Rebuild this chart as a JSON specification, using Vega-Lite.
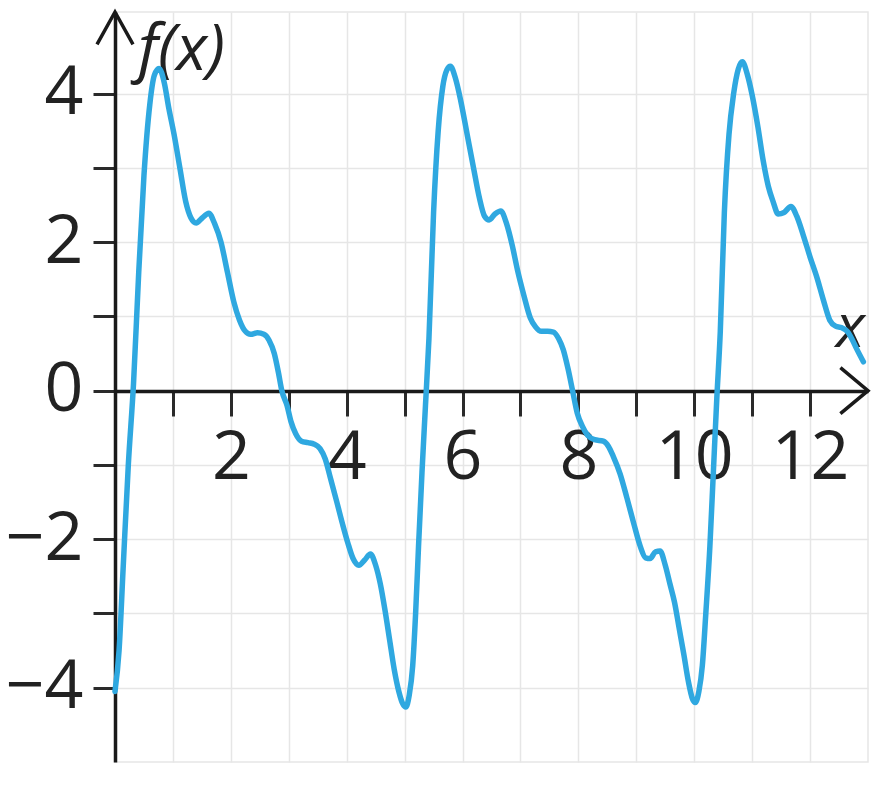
{
  "$schema": "https://vega.github.io/schema/vega-lite/v6.json",
  "description": "Periodic function f(x) with a sawtooth-like shape and small ripples.",
  "width": 753,
  "height": 750,
  "autosize": {"type": "none"},
  "padding": {"left": 115, "top": 12, "right": 22, "bottom": 25},
  "background": "white",
  "config": {
    "font": "Open Sans",
    "view": {"stroke": "#e6e6e6", "strokeWidth": 1.5}
  },
  "layer": [
    {
      "data": {
        "values": [
          {"x": 0.00, "y": -4.05}, {"x": 0.07, "y": -3.5}, {"x": 0.14, "y": -2.4}, {"x": 0.23, "y": -1.0},
          {"x": 0.32, "y": 0.1}, {"x": 0.41, "y": 1.6}, {"x": 0.50, "y": 2.9}, {"x": 0.60, "y": 3.85},
          {"x": 0.68, "y": 4.25}, {"x": 0.76, "y": 4.34}, {"x": 0.85, "y": 4.15}, {"x": 0.93, "y": 3.8},
          {"x": 1.02, "y": 3.45}, {"x": 1.12, "y": 3.0}, {"x": 1.22, "y": 2.55}, {"x": 1.31, "y": 2.33},
          {"x": 1.40, "y": 2.26}, {"x": 1.51, "y": 2.33}, {"x": 1.62, "y": 2.39}, {"x": 1.72, "y": 2.25},
          {"x": 1.83, "y": 2.0}, {"x": 1.94, "y": 1.6}, {"x": 2.05, "y": 1.2}, {"x": 2.15, "y": 0.95},
          {"x": 2.25, "y": 0.8}, {"x": 2.34, "y": 0.76}, {"x": 2.46, "y": 0.78}, {"x": 2.57, "y": 0.76},
          {"x": 2.66, "y": 0.68}, {"x": 2.75, "y": 0.5}, {"x": 2.82, "y": 0.25}, {"x": 2.88, "y": 0.0},
          {"x": 2.97, "y": -0.2}, {"x": 3.04, "y": -0.42}, {"x": 3.12, "y": -0.58}, {"x": 3.22, "y": -0.68},
          {"x": 3.33, "y": -0.7}, {"x": 3.44, "y": -0.72}, {"x": 3.54, "y": -0.78}, {"x": 3.63, "y": -0.92},
          {"x": 3.72, "y": -1.18}, {"x": 3.83, "y": -1.5}, {"x": 3.93, "y": -1.8}, {"x": 4.02, "y": -2.05},
          {"x": 4.11, "y": -2.26}, {"x": 4.21, "y": -2.35}, {"x": 4.31, "y": -2.28}, {"x": 4.41, "y": -2.2},
          {"x": 4.50, "y": -2.35}, {"x": 4.58, "y": -2.6}, {"x": 4.66, "y": -2.95}, {"x": 4.74, "y": -3.35},
          {"x": 4.82, "y": -3.75}, {"x": 4.90, "y": -4.05}, {"x": 4.97, "y": -4.22}, {"x": 5.02, "y": -4.26},
          {"x": 5.08, "y": -4.1}, {"x": 5.14, "y": -3.7}, {"x": 5.19, "y": -3.0}, {"x": 5.24, "y": -2.1},
          {"x": 5.30, "y": -1.1}, {"x": 5.36, "y": -0.2}, {"x": 5.42, "y": 0.7}, {"x": 5.50, "y": 2.4},
          {"x": 5.58, "y": 3.5}, {"x": 5.66, "y": 4.1}, {"x": 5.73, "y": 4.32}, {"x": 5.79, "y": 4.37},
          {"x": 5.88, "y": 4.2}, {"x": 5.97, "y": 3.9}, {"x": 6.08, "y": 3.45}, {"x": 6.19, "y": 3.0},
          {"x": 6.29, "y": 2.6}, {"x": 6.38, "y": 2.35}, {"x": 6.46, "y": 2.3}, {"x": 6.56, "y": 2.38},
          {"x": 6.66, "y": 2.42}, {"x": 6.76, "y": 2.25}, {"x": 6.86, "y": 1.95}, {"x": 6.95, "y": 1.62},
          {"x": 7.06, "y": 1.28}, {"x": 7.17, "y": 0.98}, {"x": 7.26, "y": 0.86}, {"x": 7.36, "y": 0.8},
          {"x": 7.47, "y": 0.8}, {"x": 7.57, "y": 0.79}, {"x": 7.66, "y": 0.7}, {"x": 7.74, "y": 0.55},
          {"x": 7.82, "y": 0.3}, {"x": 7.90, "y": 0.0}, {"x": 7.98, "y": -0.3}, {"x": 8.07, "y": -0.48},
          {"x": 8.16, "y": -0.6}, {"x": 8.28, "y": -0.66}, {"x": 8.43, "y": -0.68}, {"x": 8.52, "y": -0.75},
          {"x": 8.60, "y": -0.88}, {"x": 8.72, "y": -1.12}, {"x": 8.84, "y": -1.45}, {"x": 8.96, "y": -1.8},
          {"x": 9.07, "y": -2.1}, {"x": 9.16, "y": -2.25}, {"x": 9.24, "y": -2.26}, {"x": 9.33, "y": -2.17},
          {"x": 9.41, "y": -2.16}, {"x": 9.50, "y": -2.35}, {"x": 9.58, "y": -2.6}, {"x": 9.66, "y": -2.85},
          {"x": 9.74, "y": -3.2}, {"x": 9.82, "y": -3.55}, {"x": 9.90, "y": -3.92}, {"x": 9.97, "y": -4.15},
          {"x": 10.02, "y": -4.2}, {"x": 10.08, "y": -4.05}, {"x": 10.14, "y": -3.7}, {"x": 10.20, "y": -3.0},
          {"x": 10.27, "y": -2.1}, {"x": 10.33, "y": -1.1}, {"x": 10.39, "y": -0.1}, {"x": 10.45, "y": 0.8},
          {"x": 10.52, "y": 2.4}, {"x": 10.60, "y": 3.45}, {"x": 10.68, "y": 4.0}, {"x": 10.76, "y": 4.33},
          {"x": 10.83, "y": 4.43}, {"x": 10.92, "y": 4.25}, {"x": 11.00, "y": 3.98}, {"x": 11.10, "y": 3.55},
          {"x": 11.19, "y": 3.1}, {"x": 11.28, "y": 2.75}, {"x": 11.36, "y": 2.55}, {"x": 11.45, "y": 2.38},
          {"x": 11.55, "y": 2.4}, {"x": 11.67, "y": 2.48}, {"x": 11.77, "y": 2.35}, {"x": 11.88, "y": 2.1},
          {"x": 12.00, "y": 1.8}, {"x": 12.12, "y": 1.52}, {"x": 12.23, "y": 1.22}, {"x": 12.34, "y": 0.95},
          {"x": 12.44, "y": 0.87}, {"x": 12.54, "y": 0.85}, {"x": 12.64, "y": 0.8}, {"x": 12.72, "y": 0.7},
          {"x": 12.80, "y": 0.57}, {"x": 12.92, "y": 0.39}
        ]
      },
      "mark": {
        "type": "line",
        "interpolate": "monotone",
        "color": "#2fa8e0",
        "strokeWidth": 5.5,
        "strokeCap": "round",
        "strokeJoin": "round"
      },
      "encoding": {
        "x": {
          "field": "x",
          "type": "quantitative",
          "scale": {"domain": [0, 13], "nice": false, "zero": false},
          "axis": {
            "orient": "bottom",
            "offset": -371,
            "values": [1, 2, 3, 4, 5, 6, 7, 8, 9, 10, 11, 12],
            "format": "d",
            "labelExpr": "datum.value % 2 === 0 ? datum.label : ''",
            "grid": true,
            "gridColor": "#e6e6e6",
            "gridWidth": 1.5,
            "domainColor": "#1a1a1a",
            "domainWidth": 3.5,
            "tickColor": "#2a2a2a",
            "tickWidth": 3,
            "tickSize": 25,
            "labelFontSize": 68,
            "labelColor": "#222222",
            "labelPadding": 8,
            "labelFlush": false,
            "labelOverlap": false,
            "title": "x",
            "titleFont": "Open Sans",
            "titleFontStyle": "italic",
            "titleFontWeight": "normal",
            "titleFontSize": 60,
            "titleColor": "#222222",
            "titleX": 735,
            "titleY": -63,
            "titleAlign": "center",
            "titleBaseline": "middle"
          }
        },
        "y": {
          "field": "y",
          "type": "quantitative",
          "scale": {"domain": [-5, 5.1], "nice": false, "zero": false},
          "axis": {
            "values": [-4, -3, -2, -1, 0, 1, 2, 3, 4],
            "format": "d",
            "labelExpr": "datum.value % 2 === 0 ? datum.label : ''",
            "grid": true,
            "gridColor": "#e6e6e6",
            "gridWidth": 1.5,
            "domainColor": "#1a1a1a",
            "domainWidth": 3.5,
            "tickColor": "#2a2a2a",
            "tickWidth": 3,
            "tickSize": 22,
            "labelFontSize": 68,
            "labelColor": "#222222",
            "labelPadding": 10,
            "labelFlush": false,
            "labelOverlap": false,
            "title": "f(x)",
            "titleFont": "Open Sans",
            "titleFontStyle": "italic",
            "titleFontWeight": "normal",
            "titleFontSize": 64,
            "titleColor": "#222222",
            "titleAngle": 0,
            "titleX": 66,
            "titleY": 38,
            "titleAlign": "center",
            "titleBaseline": "middle"
          }
        }
      }
    },
    {
      "data": {"values": [{"x": 0, "y": 5.1}]},
      "mark": {
        "type": "point",
        "shape": "M -1 1.8 L 0 0 L 1 1.8",
        "filled": false,
        "size": 1296,
        "stroke": "#1a1a1a",
        "strokeWidth": 3.5,
        "opacity": 1
      },
      "encoding": {
        "x": {"field": "x", "type": "quantitative"},
        "y": {"field": "y", "type": "quantitative"}
      }
    },
    {
      "data": {"values": [{"x": 13, "y": 0}]},
      "mark": {
        "type": "point",
        "shape": "M -1.2 -1 L 0 0 L -1.2 1",
        "filled": false,
        "size": 2116,
        "stroke": "#1a1a1a",
        "strokeWidth": 3.5,
        "opacity": 1
      },
      "encoding": {
        "x": {"field": "x", "type": "quantitative"},
        "y": {"field": "y", "type": "quantitative"}
      }
    }
  ]
}
